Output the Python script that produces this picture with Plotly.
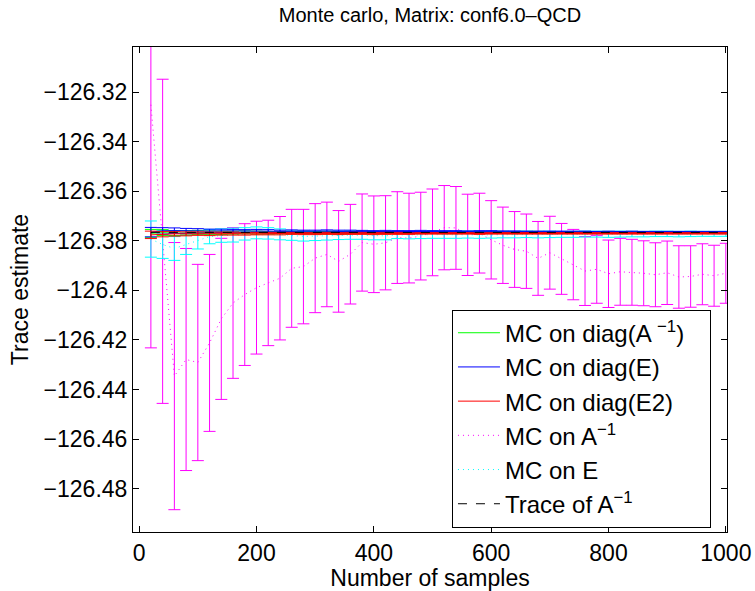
import plotly.graph_objects as go

samples = list(range(20, 1001, 20))

trace_Ainv = -126.3766

diagAinv_mean = [-126.3770, -126.3767, -126.3769, -126.3768, -126.3766, -126.3767, -126.3768, -126.3767, -126.3766, -126.3767,
                 -126.3768, -126.3767, -126.3767, -126.3766, -126.3767, -126.3767, -126.3768, -126.3767, -126.3766, -126.3767,
                 -126.3767, -126.3766, -126.3767, -126.3767, -126.3766, -126.3767, -126.3767, -126.3766, -126.3767, -126.3766,
                 -126.3766, -126.3767, -126.3766, -126.3766, -126.3767, -126.3766, -126.3766, -126.3766, -126.3767, -126.3766,
                 -126.3766, -126.3766, -126.3766, -126.3767, -126.3766, -126.3766, -126.3766, -126.3766, -126.3766, -126.3766]
diagAinv_err = [0.0016, 0.0012, 0.0010, 0.0009, 0.0008, 0.0007, 0.0007, 0.0006, 0.0006, 0.0006,
                0.0005, 0.0005, 0.0005, 0.0005, 0.0005, 0.0005, 0.0005, 0.0005, 0.0005, 0.0005,
                0.0004, 0.0004, 0.0004, 0.0004, 0.0004, 0.0004, 0.0004, 0.0004, 0.0004, 0.0004,
                0.0004, 0.0004, 0.0004, 0.0004, 0.0004, 0.0003, 0.0003, 0.0003, 0.0003, 0.0003,
                0.0003, 0.0003, 0.0003, 0.0003, 0.0003, 0.0003, 0.0003, 0.0003, 0.0003, 0.0003]

diagE_mean = [-126.3765, -126.3760, -126.3759, -126.3760, -126.3760, -126.3761, -126.3760, -126.3761, -126.3761, -126.3760,
              -126.3761, -126.3762, -126.3761, -126.3762, -126.3762, -126.3761, -126.3762, -126.3762, -126.3762, -126.3763,
              -126.3762, -126.3763, -126.3763, -126.3762, -126.3763, -126.3763, -126.3763, -126.3764, -126.3763, -126.3763,
              -126.3764, -126.3763, -126.3764, -126.3764, -126.3764, -126.3764, -126.3764, -126.3764, -126.3765, -126.3764,
              -126.3765, -126.3764, -126.3765, -126.3765, -126.3765, -126.3765, -126.3765, -126.3765, -126.3765, -126.3765]
diagE_err = [0.0019, 0.0013, 0.0011, 0.0010, 0.0009, 0.0008, 0.0007, 0.0007, 0.0006, 0.0006,
             0.0006, 0.0005, 0.0005, 0.0005, 0.0005, 0.0005, 0.0005, 0.0005, 0.0004, 0.0004,
             0.0004, 0.0004, 0.0004, 0.0004, 0.0004, 0.0004, 0.0004, 0.0004, 0.0004, 0.0004,
             0.0004, 0.0003, 0.0003, 0.0003, 0.0003, 0.0003, 0.0003, 0.0003, 0.0003, 0.0003,
             0.0003, 0.0003, 0.0003, 0.0003, 0.0003, 0.0003, 0.0003, 0.0003, 0.0003, 0.0003]

diagE2_mean = [-126.3776, -126.3773, -126.3772, -126.3772, -126.3771, -126.3772, -126.3771, -126.3771, -126.3772, -126.3771,
               -126.3771, -126.3771, -126.3770, -126.3771, -126.3771, -126.3770, -126.3771, -126.3770, -126.3770, -126.3771,
               -126.3770, -126.3770, -126.3771, -126.3770, -126.3770, -126.3770, -126.3770, -126.3770, -126.3771, -126.3770,
               -126.3770, -126.3770, -126.3770, -126.3770, -126.3770, -126.3770, -126.3770, -126.3770, -126.3770, -126.3770,
               -126.3770, -126.3770, -126.3770, -126.3770, -126.3770, -126.3770, -126.3770, -126.3770, -126.3770, -126.3770]
diagE2_err = [0.0015, 0.0011, 0.0009, 0.0008, 0.0007, 0.0007, 0.0006, 0.0006, 0.0005, 0.0005,
              0.0005, 0.0005, 0.0004, 0.0004, 0.0004, 0.0004, 0.0004, 0.0004, 0.0004, 0.0004,
              0.0004, 0.0004, 0.0003, 0.0003, 0.0003, 0.0003, 0.0003, 0.0003, 0.0003, 0.0003,
              0.0003, 0.0003, 0.0003, 0.0003, 0.0003, 0.0003, 0.0003, 0.0003, 0.0003, 0.0003,
              0.0003, 0.0003, 0.0003, 0.0003, 0.0003, 0.0003, 0.0003, 0.0003, 0.0003, 0.0003]

Ainv_mean = [-126.3251, -126.3802, -126.4346, -126.4279, -126.4291, -126.4212, -126.4115, -126.4051, -126.4017, -126.3989,
             -126.3970, -126.3951, -126.3911, -126.3904, -126.3870, -126.3855, -126.3883, -126.3854, -126.3807, -126.3814,
             -126.3808, -126.3787, -126.3789, -126.3781, -126.3766, -126.3747, -126.3748, -126.3776, -126.3769, -126.3796,
             -126.3818, -126.3835, -126.3842, -126.3871, -126.3848, -126.3873, -126.3896, -126.3922, -126.3915, -126.3933,
             -126.3925, -126.3927, -126.3931, -126.3937, -126.3929, -126.3946, -126.3944, -126.3935, -126.3941, -126.3931]
Ainv_err = [0.0981, 0.0654, 0.0539, 0.0448, 0.0396, 0.0357, 0.0325, 0.0304, 0.0286, 0.0268,
            0.0253, 0.0249, 0.0238, 0.0231, 0.0220, 0.0211, 0.0205, 0.0201, 0.0196, 0.0195,
            0.0190, 0.0185, 0.0181, 0.0177, 0.0175, 0.0170, 0.0167, 0.0164, 0.0161, 0.0158,
            0.0154, 0.0153, 0.0150, 0.0149, 0.0147, 0.0143, 0.0142, 0.0139, 0.0137, 0.0136,
            0.0135, 0.0133, 0.0131, 0.0129, 0.0128, 0.0126, 0.0124, 0.0123, 0.0123, 0.0121]

E_mean = [-126.3793, -126.3815, -126.3831, -126.3816, -126.3800, -126.3783, -126.3779, -126.3777, -126.3772, -126.3768,
          -126.3770, -126.3774, -126.3779, -126.3782, -126.3781, -126.3779, -126.3778, -126.3777, -126.3778, -126.3780,
          -126.3780, -126.3776, -126.3777, -126.3776, -126.3775, -126.3776, -126.3776, -126.3775, -126.3776, -126.3776,
          -126.3775, -126.3775, -126.3774, -126.3775, -126.3774, -126.3774, -126.3774, -126.3773, -126.3773, -126.3774,
          -126.3773, -126.3773, -126.3773, -126.3772, -126.3772, -126.3773, -126.3772, -126.3772, -126.3772, -126.3772]
E_err = [0.0073, 0.0056, 0.0048, 0.0039, 0.0033, 0.0029, 0.0027, 0.0028, 0.0025, 0.0024,
         0.0023, 0.0022, 0.0019, 0.0019, 0.0018, 0.0018, 0.0017, 0.0017, 0.0016, 0.0016,
         0.0016, 0.0015, 0.0015, 0.0015, 0.0015, 0.0014, 0.0014, 0.0014, 0.0014, 0.0013,
         0.0013, 0.0013, 0.0013, 0.0013, 0.0013, 0.0012, 0.0012, 0.0012, 0.0012, 0.0012,
         0.0012, 0.0011, 0.0011, 0.0011, 0.0011, 0.0011, 0.0011, 0.0010, 0.0010, 0.0010]

x_ticks = [0, 200, 400, 600, 800, 1000]
y_ticks = [-126.48, -126.46, -126.44, -126.42, -126.40, -126.38, -126.36, -126.34, -126.32]
y_ticktext = ["\u2212126.48", "\u2212126.46", "\u2212126.44", "\u2212126.42", "\u2212126.4",
              "\u2212126.38", "\u2212126.36", "\u2212126.34", "\u2212126.32"]

FONT = "Liberation Sans, Arial, Helvetica, sans-serif"
FS = 23

fig = go.Figure()

def eb(err, color):
    return dict(type="data", array=err, visible=True, color=color, thickness=1, width=6)

fig.add_trace(go.Scatter(x=samples, y=Ainv_mean, mode="lines", name="MC on A<sup>\u22121</sup>",
                         line=dict(color="#ff00ff", width=1, dash="1px,4px"),
                         error_y=eb(Ainv_err, "#ff00ff"), legendrank=4))
fig.add_trace(go.Scatter(x=samples, y=E_mean, mode="lines", name="MC on E",
                         line=dict(color="#00ffff", width=1, dash="1px,4px"),
                         error_y=eb(E_err, "#00ffff"), legendrank=5))
fig.add_trace(go.Scatter(x=samples, y=diagAinv_mean, mode="lines",
                         name="MC on diag(A <sup>\u22121</sup>)&nbsp;&nbsp;&nbsp;",
                         line=dict(color="#00ff00", width=1),
                         error_y=eb(diagAinv_err, "#00ff00"), legendrank=1))
fig.add_trace(go.Scatter(x=samples, y=diagE_mean, mode="lines", name="MC on diag(E)",
                         line=dict(color="#0000ff", width=1),
                         error_y=eb(diagE_err, "#0000ff"), legendrank=2))
fig.add_trace(go.Scatter(x=samples, y=diagE2_mean, mode="lines", name="MC on diag(E2)",
                         line=dict(color="#ff0000", width=1),
                         error_y=eb(diagE2_err, "#ff0000"), legendrank=3))
fig.add_trace(go.Scatter(x=samples, y=[trace_Ainv] * len(samples), mode="lines", name="Trace of A<sup>\u22121</sup>",
                         line=dict(color="black", width=1, dash="dash"), legendrank=6))

axis_common = dict(showline=True, linecolor="black", linewidth=1, mirror="ticks",
                   ticks="inside", ticklen=6, tickcolor="black", showgrid=False, zeroline=False,
                   automargin=False,
                   tickfont=dict(family=FONT, size=FS, color="black"))

fig.update_layout(
    width=755, height=591,
    margin=dict(l=133, r=28, t=47, b=59),
    paper_bgcolor="white", plot_bgcolor="white",
    font=dict(family=FONT, size=FS, color="black"),
    title=dict(text="Monte carlo, Matrix: conf6.0\u2013QCD", x=0.5, xref="paper", xanchor="center",
               y=1 - 15 / 591, yref="container", yanchor="middle",
               font=dict(family=FONT, size=20, color="black")),
    xaxis=dict(range=[-10.5, 1002], tickvals=x_ticks,
               title=dict(text="Number of samples", standoff=0, font=dict(family=FONT, size=FS)),
               **axis_common),
    yaxis=dict(range=[-126.4975, -126.3018], tickvals=y_ticks, ticktext=y_ticktext,
               title=dict(text="Trace estimate", standoff=8, font=dict(family=FONT, size=FS)),
               **axis_common),
    legend=dict(x=0.537, y=0.009, xanchor="left", yanchor="bottom",
                bgcolor="white", bordercolor="black", borderwidth=1,
                font=dict(family=FONT, size=24), tracegroupgap=0, itemwidth=42),
    showlegend=True,
)

fig.write_html("out.html")
